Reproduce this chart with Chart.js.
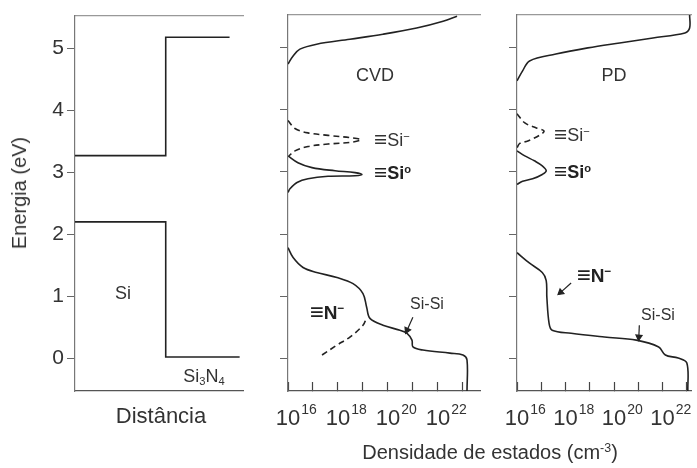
<!DOCTYPE html>
<html>
<head>
<meta charset="utf-8">
<script src="https://cdn.jsdelivr.net/npm/chart.js@4"></script>
<style>
  body { margin: 0; background: #fff; }
  #wrap { position: relative; width: 697px; height: 468px; overflow: hidden; font-family: "Liberation Sans", Arial, sans-serif; color: #333; }
  canvas { position: absolute; top: 0; }
  .t { position: absolute; white-space: nowrap; line-height: 1; color: #333; }
  .c { transform: translate(-50%, -50%); }
  .l { transform: translateY(-50%); }
  .b { font-weight: bold; color: #222; }
  .eq { font-size: 125%; font-weight: normal; vertical-align: -0.05em; line-height: 0; }
  sup { font-size: 62%; vertical-align: 0.55em; line-height: 0; }
  sub { font-size: 62%; vertical-align: -0.3em; line-height: 0; }
</style>
</head>
<body>
<div id="wrap">
  <canvas id="bands" width="250" height="468" style="left:0"></canvas>
  <canvas id="cvd" width="240" height="468" style="left:250px"></canvas>
  <canvas id="pd" width="207" height="468" style="left:490px"></canvas>

  <div class="t c" style="left:19px;top:193px;font-size:20px;transform:translate(-50%,-50%) rotate(-90deg)">Energia (eV)</div>
  <div class="t c" style="left:161px;top:416px;font-size:22px">Distância</div>
  <div class="t c" style="left:490px;top:452px;font-size:20px">Densidade de estados (cm<sup>-3</sup>)</div>

  <div class="t c" style="left:123px;top:293px;font-size:18px">Si</div>
  <div class="t c" style="left:204px;top:376px;font-size:18px">Si<sub>3</sub>N<sub>4</sub></div>

  <div class="t c" style="left:375px;top:75px;font-size:18px">CVD</div>
  <div class="t l" style="left:374px;top:140px;font-size:18px"><span class="eq">≡</span>Si<sup>−</sup></div>
  <div class="t l b" style="left:374px;top:173px;font-size:18px"><span class="eq">≡</span>Si<sup>o</sup></div>
  <div class="t l b" style="left:310px;top:312px;font-size:19px"><span class="eq">≡</span>N<sup>−</sup></div>
  <div class="t c" style="left:427px;top:304px;font-size:16px">Si-Si</div>

  <div class="t c" style="left:614px;top:75px;font-size:18px">PD</div>
  <div class="t l" style="left:554px;top:135px;font-size:18px"><span class="eq">≡</span>Si<sup>−</sup></div>
  <div class="t l b" style="left:554px;top:172px;font-size:18px"><span class="eq">≡</span>Si<sup>o</sup></div>
  <div class="t l b" style="left:577px;top:275px;font-size:19px"><span class="eq">≡</span>N<sup>−</sup></div>
  <div class="t c" style="left:658px;top:315px;font-size:16px">Si-Si</div>
</div>
<script>
const FONT = '"Liberation Sans", Arial, sans-serif';

// tick values
const energyTicks = [0, 1, 2, 3, 4, 5];
const densityTicks = [1e16, 1e17, 1e18, 1e19, 1e20, 1e21, 1e22, 1e23];
const densityLabels = [1e16, 1e18, 1e20, 1e22];

// band diagram (distance 0..1)
const condDistance = [0, 0.54, 0.54, 0.92];
const condEnergy = [3.27, 3.27, 5.18, 5.18];
const valDistance = [0, 0.54, 0.54, 0.98];
const valEnergy = [2.2, 2.2, 0.02, 0.02];

// CVD density of states
const cvdCondN = [1e16, 1.6e16, 3e16, 1.4e17, 3e18, 6.3e19, 1.4e21, 1.6e22, 5.8e22];
const cvdCondE = [4.74, 4.87, 4.98, 5.06, 5.14, 5.22, 5.32, 5.43, 5.51];
const cvdSiMinusN = [1e16, 1.9e16, 6.3e16, 4e17, 3.6e18, 8.3e18, 3.6e18, 4e17, 6.3e16, 1.9e16, 1.1e16];
const cvdSiMinusE = [3.83, 3.70, 3.63, 3.59, 3.55, 3.52, 3.48, 3.45, 3.41, 3.34, 3.26];
const cvdSiZeroN = [1e16, 2.5e16, 9.1e16, 7.6e17, 4.8e18, 9.1e18, 4.8e18, 4e17, 6.3e16, 2.3e16, 1.2e16, 1e16];
const cvdSiZeroE = [3.26, 3.15, 3.07, 3.02, 2.99, 2.96, 2.94, 2.93, 2.89, 2.83, 2.73, 2.67];
const cvdValN = [1e16, 1.6e16, 4e16, 1.4e17, 9.1e17, 4e18, 1e19, 1.4e19, 1.9e19, 6.3e19, 3e20, 5.8e20, 9.1e20, 1e21, 2.5e21, 3e22, 1e23, 1.45e23, 1.45e23];
const cvdValE = [1.78, 1.62, 1.46, 1.38, 1.30, 1.20, 1.04, 0.82, 0.64, 0.53, 0.45, 0.40, 0.29, 0.18, 0.13, 0.08, 0.05, -0.03, -0.53];
const cvdNMinusN = [2.3e17, 9.1e17, 3e18, 1e19, 1.4e19];
const cvdNMinusE = [0.05, 0.21, 0.34, 0.53, 0.66];
const cvdArrowN = [9.9e20, 5.8e20];
const cvdArrowE = [0.66, 0.45];

// PD density of states
const pdCondN = [1e16, 1.7e16, 3.3e16, 4e17, 8.3e18, 1.7e20, 4e21, 8.3e22, 1.3e23, 1.3e23];
const pdCondE = [4.47, 4.63, 4.79, 4.90, 5.00, 5.08, 5.16, 5.24, 5.32, 5.53];
const pdSiMinusN = [1e16, 2.1e16, 6.3e16, 1.3e17, 8.3e16, 2.8e16, 1.3e16, 1e16];
const pdSiMinusE = [3.94, 3.79, 3.71, 3.66, 3.59, 3.50, 3.46, 3.39];
const pdSiZeroN = [1e16, 2.1e16, 5.2e16, 1.1e17, 1.6e17, 1.1e17, 4.4e16, 1.7e16, 1e16];
const pdSiZeroE = [3.34, 3.26, 3.18, 3.10, 3.02, 2.96, 2.89, 2.85, 2.80];
const pdValN = [1e16, 3.3e16, 1.1e17, 1.6e17, 1.7e17, 2.1e17, 2.8e17, 1.7e18, 4e19, 8.3e20, 6.9e21, 1.3e22, 4.4e22, 1e23, 1.1e23];
const pdValE = [1.70, 1.53, 1.38, 1.25, 0.98, 0.56, 0.45, 0.40, 0.34, 0.29, 0.18, 0.05, 0.00, -0.08, -0.53];
const pdNArrowN = [1.7e18, 6.3e17];
const pdNArrowE = [1.21, 1.06];
const pdSiArrowN = [1.1e21, 1.05e21];
const pdSiArrowE = [0.53, 0.34];

const pts = (xs, ys) => xs.map((x, i) => ({ x, y: ys[i] }));

function curve(xs, ys, dashed, tension) {
  return {
    data: pts(xs, ys),
    showLine: true,
    borderColor: '#222',
    borderWidth: 1.6,
    borderDash: dashed ? [6, 4] : [],
    pointRadius: 0,
    tension: tension ?? 0.35,
    fill: false
  };
}

function arrow(xs, ys, angle) {
  return {
    data: pts(xs, ys),
    showLine: true,
    borderColor: '#222',
    borderWidth: 1.2,
    pointRadius: [0, 3.5],
    pointStyle: 'triangle',
    rotation: angle,
    pointBackgroundColor: '#222',
    pointBorderColor: '#222',
    tension: 0
  };
}

function energyAxis(width, labels) {
  return {
    type: 'linear',
    min: -0.53,
    max: 5.53,
    afterBuildTicks: s => { s.ticks = energyTicks.map(v => ({ value: v })); },
    afterFit: s => { s.width = width; },
    grid: { drawOnChartArea: false, tickLength: 8, color: '#666' },
    border: { color: '#777', width: 1.2 },
    ticks: { display: labels, padding: 3, color: '#333', font: { family: FONT, size: 21 } }
  };
}

const topLine = {
  type: 'linear',
  position: 'top',
  afterFit: s => { s.height = 0; },
  grid: { display: false },
  ticks: { display: false },
  border: { color: '#999', width: 1.2 }
};

function densityAxis(max) {
  return {
    type: 'logarithmic',
    min: 1e16,
    max: max,
    afterBuildTicks: s => { s.ticks = densityTicks.map(v => ({ value: v })); },
    afterFit: s => { s.height = 77; },
    grid: { drawOnChartArea: false, tickLength: -9, color: '#444', tickWidth: 1.2 },
    border: { color: '#555', width: 1.3 },
    ticks: { display: false }
  };
}

// "10" centred on the tick, exponent raised to its right
const decadeLabels = {
  id: 'decadeLabels',
  afterDraw(chart) {
    const sc = chart.scales.x;
    const ctx = chart.ctx;
    ctx.save();
    ctx.fillStyle = '#333';
    ctx.textBaseline = 'alphabetic';
    densityLabels.forEach(v => {
      const px = sc.getPixelForValue(v);
      ctx.font = '22px ' + FONT;
      ctx.textAlign = 'center';
      ctx.fillText('10', px, sc.top + 34);
      const w = ctx.measureText('10').width;
      ctx.font = '14px ' + FONT;
      ctx.textAlign = 'left';
      ctx.fillText(String(Math.round(Math.log10(v))), px + w / 2 + 1, sc.top + 23);
    });
    ctx.restore();
  }
};

const common = {
  responsive: false,
  animation: false,
  devicePixelRatio: 1,
  plugins: { legend: { display: false }, tooltip: { enabled: false } }
};

new Chart(document.getElementById('bands'), {
  type: 'scatter',
  data: {
    datasets: [
      curve(condDistance, condEnergy, false, 0),
      curve(valDistance, valEnergy, false, 0)
    ]
  },
  options: {
    ...common,
    layout: { padding: { top: 15, right: 7, left: 0, bottom: 0 } },
    scales: {
      x: {
        type: 'linear', min: 0, max: 1,
        afterFit: s => { s.height = 77; },
        grid: { display: false },
        ticks: { display: false },
        border: { color: '#555', width: 1.3 }
      },
      x2: topLine,
      y: energyAxis(75, true)
    }
  }
});

new Chart(document.getElementById('cvd'), {
  type: 'scatter',
  data: {
    datasets: [
      curve(cvdCondN, cvdCondE),
      curve(cvdSiMinusN, cvdSiMinusE, true),
      curve(cvdSiZeroN, cvdSiZeroE),
      curve(cvdValN, cvdValE),
      curve(cvdNMinusN, cvdNMinusE, true),
      arrow(cvdArrowN, cvdArrowE, 205)
    ]
  },
  options: {
    ...common,
    layout: { padding: { top: 15, right: 10, left: 0, bottom: 0 } },
    scales: { x: densityAxis(4.8e23), x2: topLine, y: energyAxis(38, false) }
  },
  plugins: [decadeLabels]
});

new Chart(document.getElementById('pd'), {
  type: 'scatter',
  data: {
    datasets: [
      curve(pdCondN, pdCondE),
      curve(pdSiMinusN, pdSiMinusE, true),
      curve(pdSiZeroN, pdSiZeroE),
      curve(pdValN, pdValE),
      arrow(pdNArrowN, pdNArrowE, 230),
      arrow(pdSiArrowN, pdSiArrowE, 185)
    ]
  },
  options: {
    ...common,
    layout: { padding: { top: 15, right: 0, left: 0, bottom: 0 } },
    scales: { x: densityAxis(1.6e23), x2: topLine, y: energyAxis(27, false) }
  },
  plugins: [decadeLabels]
});
</script>
</body>
</html>
